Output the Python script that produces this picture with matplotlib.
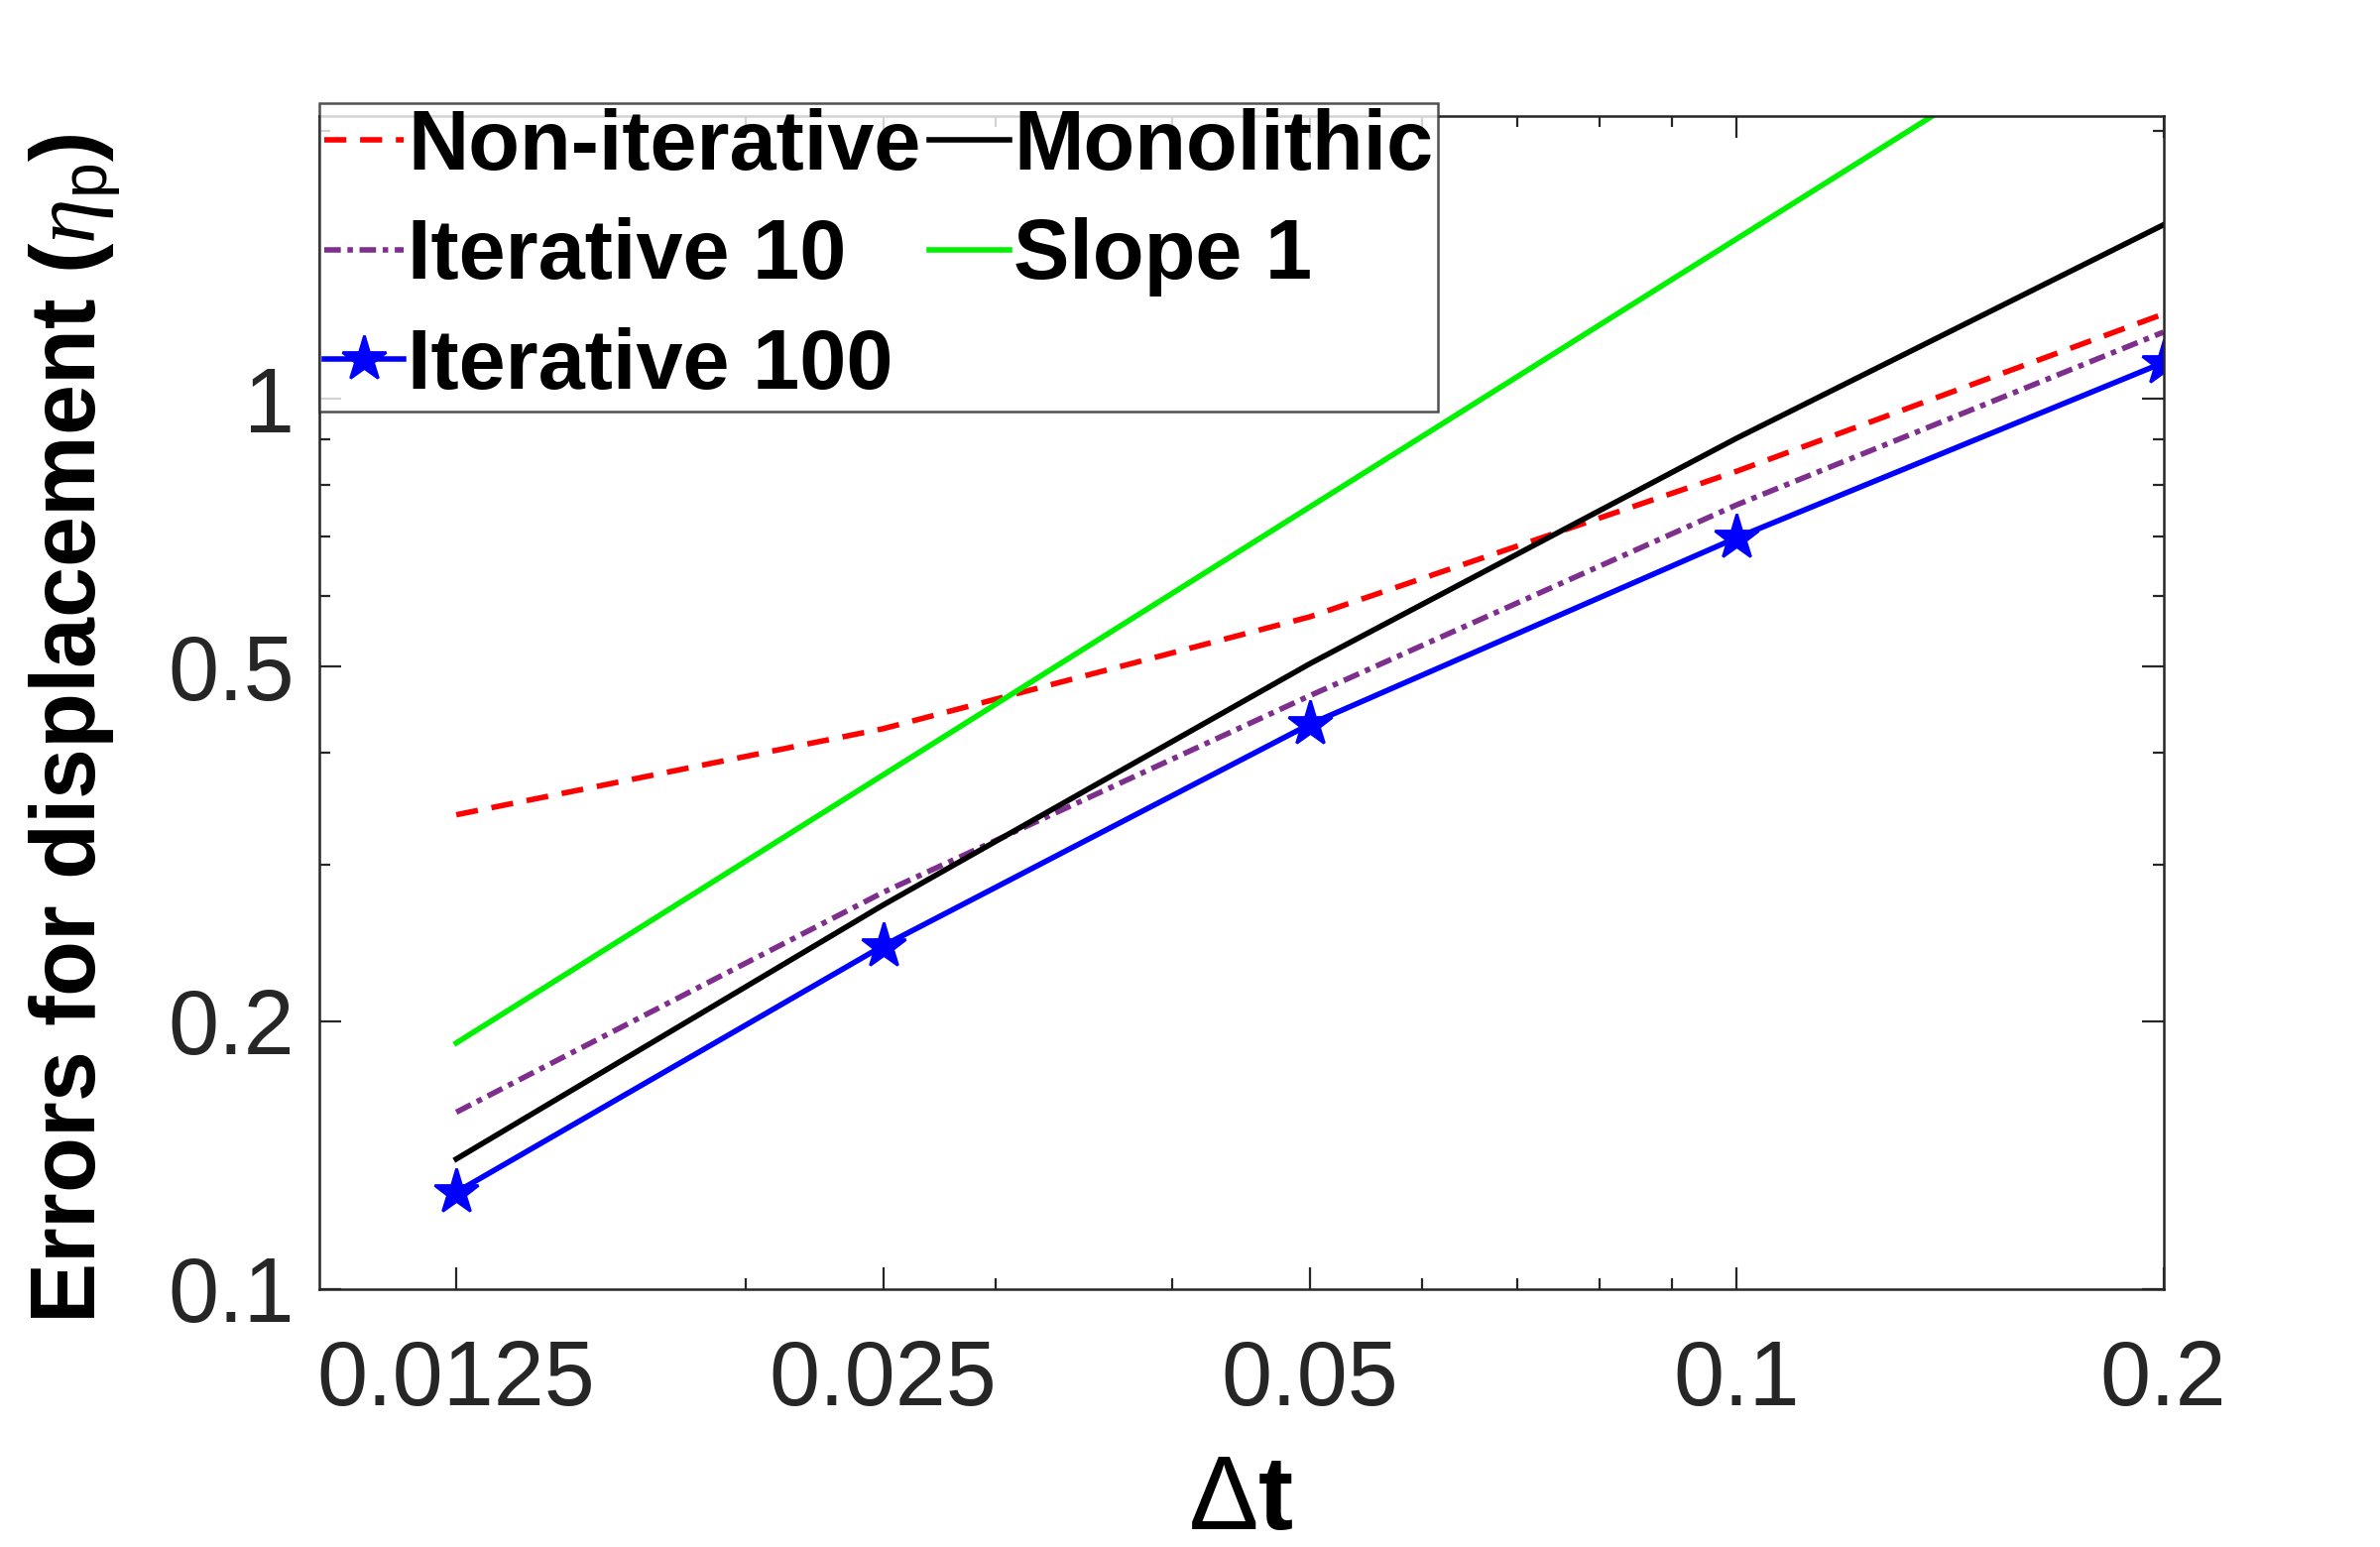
import matplotlib.pyplot as plt
from matplotlib.ticker import FixedLocator, NullFormatter

plt.rcParams['font.family'] = ['Liberation Sans', 'DejaVu Sans']
plt.rcParams['mathtext.fontset'] = 'custom'
plt.rcParams['mathtext.it'] = 'Liberation Serif:italic'
plt.rcParams['mathtext.rm'] = 'Liberation Sans'

# time steps
dt = [0.0125, 0.025, 0.05, 0.1, 0.2]

# errors
err_noniter = [0.341, 0.426, 0.569, 0.829, 1.245]
err_iter10 = [0.158, 0.279, 0.464, 0.760, 1.188]
err_iter100 = [0.1285, 0.243, 0.431, 0.698, 1.098]
err_mono = [0.140, 0.270, 0.504, 0.903, 1.568]
err_slope1 = [0.189, 0.378, 0.756, 1.512, 3.024]

xtick_labels = ['0.0125', '0.025', '0.05', '0.1', '0.2']
yticks = [0.1, 0.2, 0.5, 1]
ytick_labels = ['0.1', '0.2', '0.5', '1']

fig = plt.figure(figsize=(12, 7.8), dpi=200)
ax = fig.add_axes([0.134, 0.1667, 0.775, 0.758])

l1, = ax.plot(dt, err_noniter, color='r', lw=2, ls=(0, (4, 2.5)), label='Non-iterative')
l2, = ax.plot(dt, err_iter10, color=(0.494, 0.184, 0.556), lw=2,
              ls=(0, (3, 1.2, 1, 1.2)), label='Iterative 10')
l3, = ax.plot(dt, err_iter100, '-', color='b', lw=2, marker='*', ms=17, label='Iterative 100')
l4, = ax.plot(dt, err_mono, '-', color='k', lw=2, label='Monolithic')
l5, = ax.plot(dt, err_slope1, '-', color=(0.0, 0.95, 0.0), lw=2, label='Slope 1')

ax.set_xscale('log')
ax.set_yscale('log')
ax.set_xlim(0.01, 0.2)
ax.set_ylim(0.1, 2.075)

ax.xaxis.set_major_locator(FixedLocator(dt))
ax.set_xticklabels(xtick_labels)
ax.xaxis.set_minor_locator(FixedLocator([0.02, 0.03, 0.04, 0.06, 0.07, 0.08, 0.09]))
ax.xaxis.set_minor_formatter(NullFormatter())
ax.yaxis.set_major_locator(FixedLocator(yticks))
ax.set_yticklabels(ytick_labels)
ax.yaxis.set_minor_locator(FixedLocator([0.3, 0.4, 0.6, 0.7, 0.8, 0.9, 2]))
ax.yaxis.set_minor_formatter(NullFormatter())

ax.tick_params(which='both', direction='in', top=True, right=True,
               labelsize=33, colors='#262626', width=0.8)
ax.tick_params(which='major', length=8)
ax.tick_params(which='minor', length=4)
ax.tick_params(axis='x', which='major', pad=18)
ax.tick_params(axis='y', which='major', pad=9)
for s in ax.spines.values():
    s.set_color('#262626')
    s.set_linewidth(0.9)

ax.set_xlabel(r'$\Delta$t', fontsize=38, fontweight='bold')
ax.set_ylabel(r'Errors for displacement ($\eta_{\rm p}$)', fontsize=33,
              fontweight='bold')
ax.xaxis.set_label_coords(0.5, -0.14)
ax.yaxis.set_label_coords(-0.106, 0.478)

leg = fig.legend(handles=[l1, l2, l3, l4, l5], loc='upper left',
                 bbox_to_anchor=(0.134, 0.9335), bbox_transform=fig.transFigure,
                 ncol=2, prop={'weight': 'bold', 'size': 30.5},
                 frameon=True, fancybox=False, borderaxespad=0,
                 handlelength=0.95, handletextpad=0.05, columnspacing=0.1,
                 labelspacing=0.36, borderpad=0.06)
leg.get_frame().set_edgecolor('#262626')
leg.get_frame().set_linewidth(0.9)

fig.savefig('out.png', dpi=200)
